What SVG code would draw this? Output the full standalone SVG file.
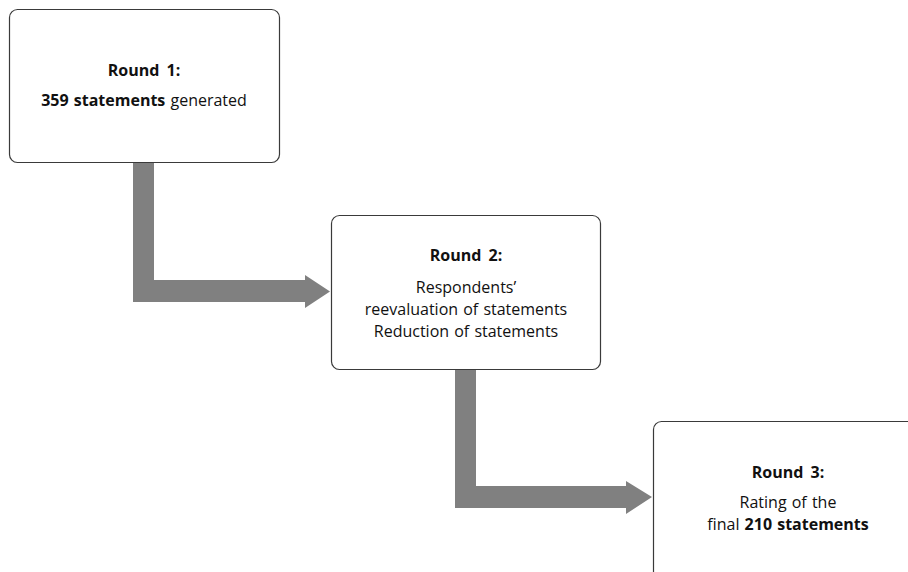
<svg xmlns="http://www.w3.org/2000/svg" width="908" height="572" viewBox="0 0 908 572">
<style>
.box{fill:#fff;stroke:#3a3a3a;stroke-width:1.2}
.arr{fill:#808080;stroke:none}
text{font-family:"Open Sans","Noto Sans",sans-serif;font-size:16px;fill:#111;text-anchor:middle;word-spacing:1px}
.b{font-weight:bold}
.t{word-spacing:3px}
</style>
<rect width="908" height="572" fill="#fff"/>
<g id="connectors">
<polygon class="arr" points="133,163 154,163 154,280 305,280 305,275 330,291.5 305,308 305,302 133,302"/>
<polygon class="arr" points="455,369 476,369 476,486 626,486 626,481 652,497 626,514 626,508 455,508"/>
</g>
<g id="round1">
<rect class="box" x="9.5" y="9.5" width="270" height="153" rx="8"/>
<text x="144" y="76" class="b t">Round 1:</text>
<text x="144" y="106"><tspan class="b">359 statements</tspan> generated</text>
</g>
<g id="round2">
<rect class="box" x="331.5" y="215.5" width="269" height="154" rx="8"/>
<text x="466" y="261" class="b t">Round 2:</text>
<text x="466" y="293">Respondents’</text>
<text x="466" y="315">reevaluation of statements</text>
<text x="466" y="337">Reduction of statements</text>
</g>
<g id="round3">
<rect class="box" x="653.5" y="421.5" width="270" height="170" rx="8"/>
<text x="788" y="478" class="b t">Round 3:</text>
<text x="788" y="508">Rating of the</text>
<text x="788" y="530">final <tspan class="b">210 statements</tspan></text>
</g>
</svg>
